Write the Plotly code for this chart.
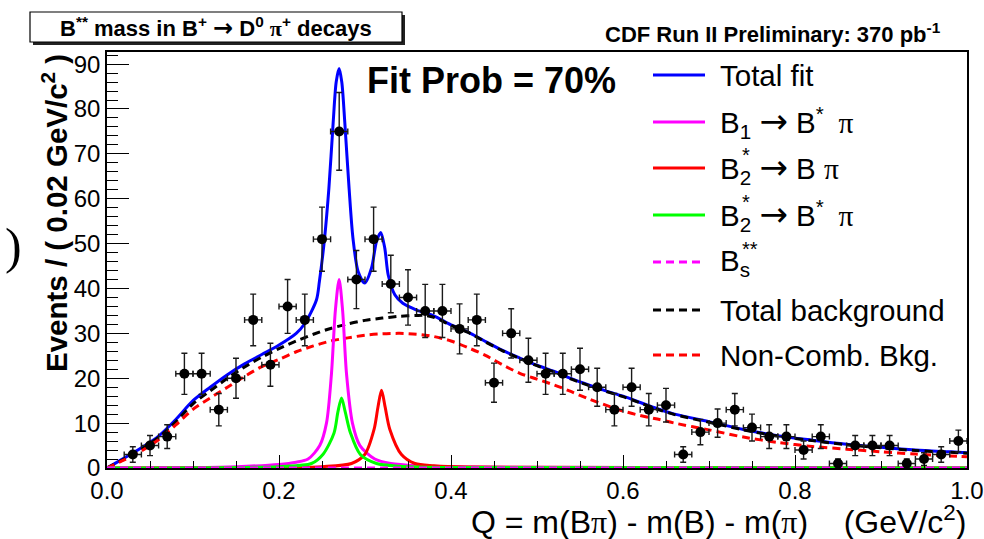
import numpy as np
import plotly.graph_objects as go

# ---- measured spectrum: Q bin centres (GeV/c^2) and events per 0.02 GeV/c^2 ----
q_bins = [0.03, 0.05, 0.07, 0.09, 0.11, 0.13, 0.15, 0.17, 0.19, 0.21,
          0.23, 0.25, 0.27, 0.29, 0.31, 0.33, 0.35, 0.37, 0.39, 0.41,
          0.43, 0.45, 0.47, 0.49, 0.51, 0.53, 0.55, 0.57, 0.59, 0.61,
          0.63, 0.65, 0.67, 0.69, 0.71, 0.73, 0.75, 0.77, 0.79, 0.81,
          0.83, 0.85, 0.87, 0.89, 0.91, 0.93, 0.95, 0.97, 0.99]
events = [3, 5, 7, 21, 21, 13, 20, 33, 23, 36,
          33, 51, 75, 42, 51, 41, 38, 35, 35, 31,
          33, 19, 30, 24, 21, 21, 22, 18, 13, 18,
          13, 14, 3, 8, 10, 13, 9, 7, 7, 4,
          7, 1, 5, 5, 5, 1, 2, 3, 6]
bin_half_width = 0.01

# ---- fit components, sampled along Q ----
q_total = [0.0, 0.02, 0.04, 0.06, 0.08, 0.10, 0.12, 0.14, 0.16, 0.18,
           0.20, 0.22, 0.23, 0.2436, 0.247, 0.253, 0.258, 0.263, 0.2665, 0.2699,
           0.273, 0.2765, 0.2815, 0.286, 0.292, 0.2997, 0.3075, 0.3134, 0.3183, 0.323,
           0.327, 0.3347, 0.344, 0.36, 0.38, 0.40, 0.42, 0.44, 0.46, 0.48,
           0.50, 0.52, 0.54, 0.56, 0.58, 0.60, 0.62, 0.64, 0.66, 0.70,
           0.74, 0.78, 0.82, 0.86, 0.90, 0.94, 0.98, 1.0]
total_fit = [0.0, 2.2, 4.5, 7.1, 10.8, 15.0, 18.0, 20.8, 23.2, 25.3,
             27.4, 30.0, 32.2, 37.5, 41.6, 51.2, 62.3, 77.0, 86.0, 89.0,
             86.0, 77.0, 62.3, 51.2, 43.8, 41.2, 44.5, 50.5, 52.5, 49.0,
             43.0, 38.6, 36.7, 35.2, 33.9, 31.9, 30.3, 28.2, 26.2, 24.5,
             22.9, 21.5, 19.9, 18.5, 17.2, 16.0, 14.6, 13.2, 12.0, 10.3,
             8.6, 7.2, 6.2, 5.3, 4.6, 4.0, 3.6, 3.4]

q_bkg = [0.0, 0.02, 0.04, 0.06, 0.08, 0.10, 0.12, 0.14, 0.16, 0.18,
         0.20, 0.22, 0.24, 0.26, 0.28, 0.30, 0.32, 0.34, 0.36, 0.37,
         0.38, 0.40, 0.42, 0.44, 0.46, 0.48, 0.50, 0.52, 0.54, 0.56,
         0.58, 0.60, 0.62, 0.64, 0.66, 0.70, 0.74, 0.78, 0.82, 0.86,
         0.90, 0.94, 0.98, 1.0]
total_bkg = [0.0, 2.0, 4.2, 6.8, 10.3, 14.3, 17.2, 20.0, 22.5, 24.7,
             26.6, 28.3, 29.8, 31.1, 32.1, 32.9, 33.4, 33.8, 34.0, 34.0,
             33.6, 31.8, 30.2, 28.1, 26.1, 24.4, 22.8, 21.4, 19.8, 18.4,
             17.1, 15.9, 14.5, 13.1, 11.9, 10.2, 8.5, 7.1, 6.1, 5.2,
             4.5, 3.9, 3.5, 3.3]
noncomb_bkg = [0.0, 1.8, 3.8, 6.3, 9.6, 13.1, 15.6, 18.0, 20.4, 22.6,
               24.2, 25.9, 27.2, 28.3, 29.0, 29.6, 29.9, 30.0, 29.8, 29.6,
               29.3, 28.3, 26.8, 25.1, 23.0, 21.1, 19.8, 18.5, 17.0, 15.4,
               14.0, 12.7, 11.7, 10.9, 10.0, 8.5, 6.9, 5.7, 4.8, 4.2,
               3.6, 3.1, 2.7, 2.5]

q_b1 = [0.0, 0.10, 0.15, 0.20, 0.22, 0.2338, 0.2474, 0.2552, 0.261, 0.2655,
        0.2699, 0.274, 0.2785, 0.2854, 0.2941, 0.3114, 0.33, 0.36, 0.40, 0.43, 1.0]
b1_bstar_pi = [0.0, 0.1, 0.3, 0.8, 1.3, 2.0, 5.0, 10.0, 21.0, 35.0,
               42.0, 35.0, 21.0, 10.0, 5.0, 2.0, 1.0, 0.5, 0.3, 0.2, 0.0]

q_b2_bpi = [0.0, 0.25, 0.2843, 0.2997, 0.3106, 0.315, 0.3192, 0.3235, 0.3288, 0.3424,
            0.358, 0.38, 0.42, 1.0]
b2_b_pi = [0.0, 0.3, 1.0, 3.0, 8.65, 13.5, 17.3, 13.5, 8.65, 3.0,
           1.0, 0.5, 0.2, 0.0]

q_b2_bstarpi = [0.0, 0.20, 0.2378, 0.251, 0.264, 0.2685, 0.2727, 0.277, 0.2831, 0.2946,
                0.3134, 0.34, 0.40, 1.0]
b2_bstar_pi = [0.0, 0.3, 1.0, 3.0, 7.8, 12.5, 15.6, 12.5, 7.8, 3.0,
               1.0, 0.4, 0.1, 0.0]

q_bs = [0.0, 1.0]
bs_starstar = [0.0, 0.0]

# ---- axes ----
x_range = [0.0, 1.0]
y_range = [0.0, 92.7]
x_ticks = [0.0, 0.2, 0.4, 0.6, 0.8, 1.0]
x_tick_text = ["0.0", "0.2", "0.4", "0.6", "0.8", "1.0"]
y_ticks = [0, 10, 20, 30, 40, 50, 60, 70, 80, 90]

BLUE, MAGENTA, RED, GREEN, BLACK = "#0000ff", "#ff00ff", "#ff0000", "#00ff00", "#000000"
DASH = "8px,5px"
FONT = "Liberation Sans, Arial, Helvetica, sans-serif"
ARROW = '<span style="font-family:DejaVu Sans;font-size:34px">→</span>'
PI = '<span style="font-family:Liberation Serif">π</span>'
GAP = "\u2002"

W, H = 984, 539
L, R, T, B = 107, 17, 52, 71


def px(x):
    return (x - L) / (W - L - R)


def py(y):
    return (H - B - y) / (H - T - B)


fig = go.Figure()


def curve(q, v, color, dash=None, width=3):
    fig.add_trace(go.Scatter(
        x=q, y=v, mode="lines",
        line=dict(color=color, width=width, dash=dash, shape="spline", smoothing=0.8),
        hoverinfo="skip", showlegend=False))


curve(q_total, total_fit, BLUE)
curve(q_bkg, total_bkg, BLACK, DASH)
curve(q_bkg, noncomb_bkg, RED, DASH)
curve(q_b1, b1_bstar_pi, MAGENTA)
curve(q_b2_bpi, b2_b_pi, RED)
curve(q_b2_bstarpi, b2_bstar_pi, GREEN)
curve(q_bs, bs_starstar, MAGENTA, DASH)

fig.add_trace(go.Scatter(
    x=q_bins, y=events, mode="markers",
    marker=dict(size=10, color="black"),
    error_y=dict(type="data", array=list(np.sqrt(events)), width=3, thickness=1.4, color="#1a1a1a"),
    error_x=dict(type="constant", value=bin_half_width, width=3, thickness=1.4, color="#1a1a1a"),
    showlegend=False, hoverinfo="skip"))

fig.update_xaxes(
    range=x_range, tickvals=x_ticks, ticktext=x_tick_text, automargin=False,
    ticks="inside", ticklen=13, tickwidth=1.2, tickcolor="black",
    minor=dict(dtick=0.05, ticks="inside", ticklen=7, tickwidth=1.2, tickcolor="black"),
    showline=True, linecolor="black", linewidth=1.5, mirror=True,
    showgrid=False, zeroline=False,
    tickfont=dict(family=FONT, size=24, color="black"))
fig.update_yaxes(
    range=y_range, tickvals=y_ticks, automargin=False,
    ticks="inside", ticklen=22, tickwidth=1.2, tickcolor="black",
    minor=dict(dtick=2, ticks="inside", ticklen=11, tickwidth=1.2, tickcolor="black"),
    showline=True, linecolor="black", linewidth=1.5, mirror=True,
    showgrid=False, zeroline=False,
    tickfont=dict(family=FONT, size=24, color="black"))

shapes = [
    # title box with drop shadow
    dict(type="rect", xref="paper", yref="paper", x0=px(33), x1=px(405), y0=py(45), y1=py(15),
         fillcolor="#222222", line=dict(width=0), layer="above"),
    dict(type="rect", xref="paper", yref="paper", x0=px(30), x1=px(402), y0=py(42), y1=py(12),
         fillcolor="white", line=dict(color="black", width=1.2), layer="above"),
]

annotations = [
    dict(text="<b>B<sup>**</sup> mass in B<sup>+</sup> "
              + '<span style="font-family:DejaVu Sans;font-size:24px">→</span>'
              + " D<sup>0</sup> " + PI + "<sup>+</sup> decays</b>",
         x=px(216), y=py(28), xref="paper", yref="paper", showarrow=False,
         font=dict(family=FONT, size=22, color="black"), xanchor="center", yanchor="middle"),
    dict(text="<b>CDF Run II Preliminary: 370 pb<sup>-1</sup></b>",
         x=px(773), y=py(33), xref="paper", yref="paper", showarrow=False,
         font=dict(family=FONT, size=22, color="black"), xanchor="center", yanchor="middle"),
    dict(text="<b>Fit Prob = 70%</b>",
         x=px(365), y=py(80), xref="paper", yref="paper", showarrow=False,
         font=dict(family=FONT, size=36, color="black"), xanchor="left", yanchor="middle"),
    dict(text="<b>Events / ( 0.02 GeV/c<sup>2</sup> )</b>",
         x=px(55), y=py(213), xref="paper", yref="paper", showarrow=False, textangle=-90,
         font=dict(family=FONT, size=29.5, color="black"), xanchor="center", yanchor="middle"),
    dict(text="Q = m(B" + PI + ") - m(B) - m(" + PI + ")    (GeV/c<sup>2</sup>)",
         x=px(968), y=py(520), xref="paper", yref="paper", showarrow=False,
         font=dict(family=FONT, size=32, color="black"), xanchor="right", yanchor="middle"),
    dict(text=")",
         x=px(13), y=py(246), xref="paper", yref="paper", showarrow=False,
         font=dict(family="Liberation Serif, serif", size=50, color="black"),
         xanchor="center", yanchor="middle"),
]

# legend: sample line + label per fit component; stacked superscripts
# (asterisks over a subscript) are placed as separate small texts
legend_rows = [
    (75, "Total fit", BLUE, None, ""),
    (122, "B<sub>1</sub> " + ARROW + " B<sup>*</sup>" + GAP + PI, MAGENTA, None, ""),
    (168, "B<sub>2</sub> " + ARROW + " B " + PI, RED, None, "*"),
    (215, "B<sub>2</sub> " + ARROW + " B<sup>*</sup>" + GAP + PI, GREEN, None, "*"),
    (262, "B<sub>s</sub>", MAGENTA, DASH, "**"),
    (310, "Total background", BLACK, DASH, ""),
    (355, "Non-Comb. Bkg.", RED, DASH, ""),
]
for yrow, label, color, dash, stacked in legend_rows:
    shapes.append(dict(type="line", xref="paper", yref="paper",
                       x0=px(653), x1=px(705), y0=py(yrow), y1=py(yrow),
                       line=dict(color=color, width=3, dash=dash)))
    annotations.append(dict(text=label, x=px(718), y=py(yrow), xref="paper", yref="paper",
                            showarrow=False, xanchor="left", yanchor="middle",
                            font=dict(family=FONT, size=29.5, color="black")))
    if stacked:
        annotations.append(dict(text=stacked, x=px(740), y=py(yrow - 13), xref="paper", yref="paper",
                                showarrow=False, xanchor="left", yanchor="middle",
                                font=dict(family=FONT, size=20, color="black")))

fig.update_layout(
    width=W, height=H,
    margin=dict(l=L, r=R, t=T, b=B),
    paper_bgcolor="white", plot_bgcolor="white",
    shapes=shapes, annotations=annotations,
    showlegend=False,
)

fig.write_html("out.html")
